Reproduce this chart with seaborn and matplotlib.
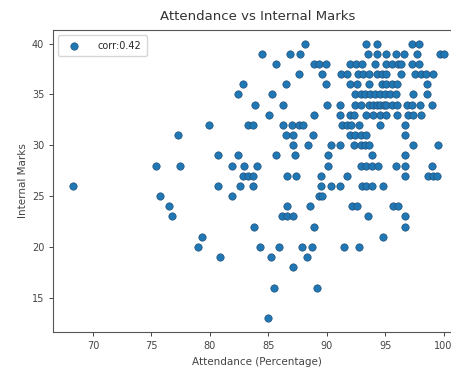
import matplotlib
matplotlib.use("Agg")
import matplotlib.pyplot as plt
import seaborn as sns
import pandas as pd

# Attendance (%) and internal marks, read row by row (marks 40 down to 13)
attendance = [
    88.1, 93.4, 94.3, 97.3, 97.9,                                   # 40
    84.5, 86.9, 87.7, 93.5, 94.3, 95.1, 95.9, 96.6, 97.7, 99.7, 100.0,  # 39
    85.7, 88.9, 89.3, 89.9, 92.0, 92.5, 93.0, 94.1, 95.1, 95.6, 96.1, 96.4, 97.3, 97.9,  # 38
    87.6, 89.6, 91.2, 91.7, 92.7, 93.1, 93.6, 94.3, 94.7, 95.1, 96.4, 97.6, 98.1, 98.5, 99.1,  # 37
    82.8, 86.5, 89.9, 92.0, 92.6, 93.6, 94.7, 95.1, 95.6, 96.0, 98.6,  # 36
    82.4, 85.3, 92.4, 92.9, 93.3, 93.7, 94.1, 94.6, 95.0, 95.4, 95.9, 97.4, 98.6,  # 35
    83.9, 86.3, 90.0, 91.1, 92.4, 92.9, 93.6, 94.0, 94.3, 94.6, 94.9, 95.1, 95.6, 96.0, 96.9, 97.3, 98.0, 99.0,  # 34
    85.1, 88.9, 91.1, 92.0, 92.3, 93.4, 94.0, 94.6, 95.1, 96.0, 97.0, 97.4, 98.1,  # 33
    79.9, 83.3, 83.7, 86.3, 87.0, 87.6, 88.0, 91.3, 91.7, 92.1, 92.8, 94.6, 96.7,  # 32
    77.3, 86.5, 87.1, 88.8, 92.0, 92.4, 92.9, 93.4, 96.7,  # 31
    87.1, 88.4, 90.4, 91.1, 92.3, 92.9, 93.3, 93.6, 97.4, 99.5,  # 30
    80.7, 82.4, 85.7, 87.3, 90.1, 93.9, 96.7,  # 29
    75.4, 77.4, 81.9, 82.9, 84.0, 90.1, 92.9, 93.4, 93.9, 94.4, 95.9, 96.7, 99.0,  # 28
    82.8, 83.3, 83.7, 86.6, 87.4, 89.5, 91.7, 96.7, 98.7, 99.1, 99.4,  # 27
    68.3, 80.7, 82.6, 83.7, 89.5, 90.4, 91.1, 93.0, 93.4, 93.9, 94.8,  # 26
    75.7, 81.9, 89.3, 89.6,  # 25
    76.5, 86.6, 88.6, 92.2, 92.6, 95.7, 96.1,  # 24
    76.8, 86.2, 86.6, 87.1, 93.5, 96.7,  # 23
    83.8, 88.9, 96.7,  # 22
    79.3, 94.8,  # 21
    79.0, 84.3, 85.9, 87.9, 88.7, 91.5, 92.8,  # 20
    80.9, 85.2, 88.3,  # 19
    87.1,  # 18
    85.5, 89.2,  # 16
    85.0,  # 13
]

internal_marks = (
    [40] * 5 + [39] * 11 + [38] * 14 + [37] * 15 + [36] * 11 + [35] * 13
    + [34] * 18 + [33] * 13 + [32] * 13 + [31] * 9 + [30] * 10 + [29] * 7
    + [28] * 13 + [27] * 11 + [26] * 11 + [25] * 4 + [24] * 7 + [23] * 6
    + [22] * 3 + [21] * 2 + [20] * 7 + [19] * 3 + [18] * 1 + [16] * 2 + [13] * 1
)

legend_label = "corr:0.42"
title = "Attendance vs Internal Marks"
x_label = "Attendance (Percentage)"
y_label = "Internal Marks"

df = pd.DataFrame({"Attendance": attendance, "Marks": internal_marks})

sns.set_style("ticks")
plt.rcParams["font.family"] = ["DejaVu Sans"]

fig = plt.figure(figsize=(4.52, 3.68), dpi=100)
ax = fig.add_axes([0.118, 0.098, 0.902, 0.821])

sns.scatterplot(data=df, x="Attendance", y="Marks", ax=ax, color="#1f77b4",
                s=28, edgecolor="#24507a", linewidth=0.5, label=legend_label)

ax.set_xlim(66.6, 101.5)
ax.set_ylim(11.65, 41.35)
ax.set_xticks([70, 75, 80, 85, 90, 95, 100])
ax.set_yticks([15, 20, 25, 30, 35, 40])
ax.tick_params(labelsize=7, length=3, width=0.7, colors="#444444")
for sp in ax.spines.values():
    sp.set_linewidth(0.8)
    sp.set_color("#555555")

ax.set_title(title, fontsize=9.5, color="#333333", pad=7)
ax.set_xlabel(x_label, fontsize=7.5, color="#444444", labelpad=4)
ax.set_ylabel(y_label, fontsize=7.5, color="#444444", labelpad=3)
ax.legend(loc="upper left", fontsize=7, frameon=True, handletextpad=1.4,
          borderpad=0.6, framealpha=0.8)

fig.savefig("out.png", dpi=100)
